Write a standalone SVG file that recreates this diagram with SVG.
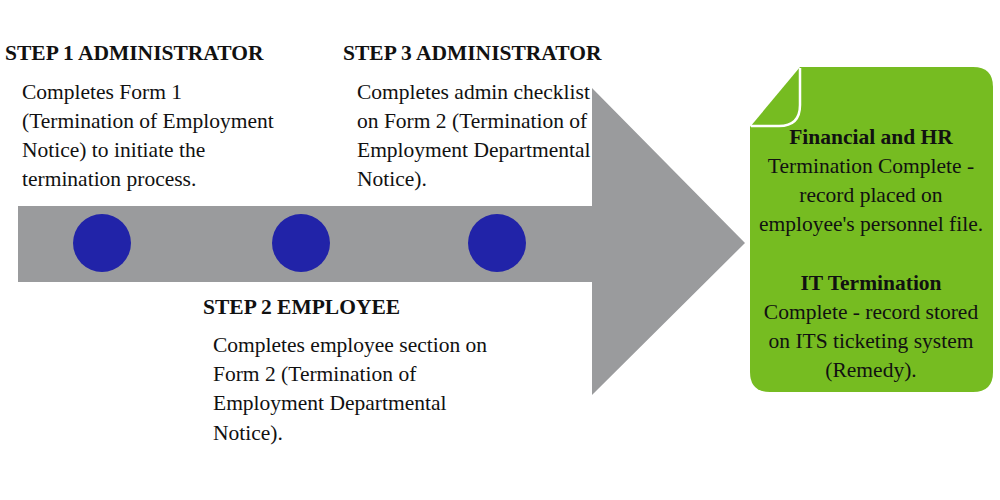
<svg xmlns="http://www.w3.org/2000/svg" width="1000" height="500" viewBox="0 0 1000 500">
<style>
text{font-family:"Liberation Serif","Times New Roman",serif;fill:#111;}
.h{font-size:21.5px;font-weight:bold;}
.b{font-size:21.5px;}
.c{text-anchor:middle;}
.dot{fill:#2123A8;}
</style>
<rect width="1000" height="500" fill="#fff"/>
<g id="connectors">
<path d="M18,206 L592,206 L592,88 L745,243 L592,395 L592,282 L18,282 Z" fill="#9A9B9D"/>
</g>
<g id="dot1"><circle class="dot" cx="102" cy="243" r="29"/></g>
<g id="dot2"><circle class="dot" cx="301" cy="243" r="29"/></g>
<g id="dot3"><circle class="dot" cx="497" cy="243" r="29"/></g>
<g id="step1">
<text class="h" x="5" y="60">STEP 1 ADMINISTRATOR</text>
<text class="b" x="22" y="99">Completes Form 1</text>
<text class="b" x="22" y="128">(Termination of Employment</text>
<text class="b" x="22" y="157">Notice) to initiate the</text>
<text class="b" x="22" y="186">termination process.</text>
</g>
<g id="step3">
<text class="h" x="343" y="60">STEP 3 ADMINISTRATOR</text>
<text class="b" x="357" y="99">Completes admin checklist</text>
<text class="b" x="357" y="128">on Form 2 (Termination of</text>
<text class="b" x="357" y="157">Employment Departmental</text>
<text class="b" x="357" y="186">Notice).</text>
</g>
<g id="step2">
<text class="h" x="203" y="314">STEP 2 EMPLOYEE</text>
<text class="b" x="213" y="352">Completes employee section on</text>
<text class="b" x="213" y="381">Form 2 (Termination of</text>
<text class="b" x="213" y="410">Employment Departmental</text>
<text class="b" x="213" y="440">Notice).</text>
</g>
<g id="result">
<path d="M800,67 L973,67 Q993,67 993,87 L993,372 Q993,392 973,392 L770,392 Q750,392 750,372 L750,127 Z" fill="#76BC21"/>
<path d="M800,68 L800,105 Q800,126 779,126 L751,126" fill="none" stroke="#fff" stroke-width="2.5"/>
<text class="h c" x="871" y="144">Financial and HR</text>
<text class="b c" x="871" y="173">Termination Complete -</text>
<text class="b c" x="871" y="202">record placed on</text>
<text class="b c" x="871" y="231">employee's personnel file.</text>
<text class="h c" x="871" y="290">IT Termination</text>
<text class="b c" x="871" y="319">Complete - record stored</text>
<text class="b c" x="871" y="348">on ITS ticketing system</text>
<text class="b c" x="871" y="377">(Remedy).</text>
</g>
</svg>
